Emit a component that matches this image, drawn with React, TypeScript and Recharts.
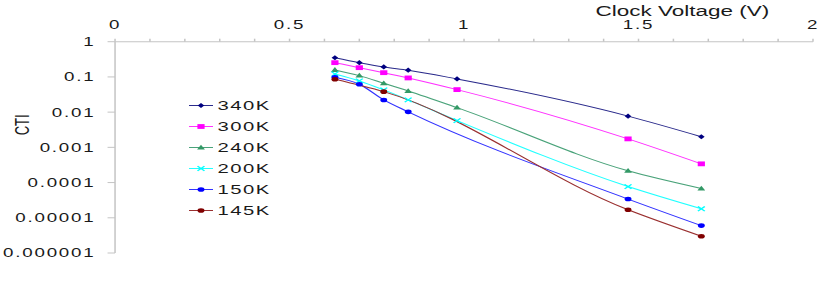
import React from 'react';
import { LineChart, Line, XAxis, YAxis, Legend, Label } from 'recharts';

// Charge transfer inefficiency vs clock voltage, per temperature
const temps = ['340K', '300K', '240K', '200K', '150K', '145K'];
const markerColors = ['#000080', '#ff00ff', '#339966', '#00ffff', '#0000ff', '#800000'];
const lineColors = ['#2b2b8c', '#ff33ff', '#4aa37a', '#22ffff', '#3333ff', '#9a3030'];
const shapes = ['diamond', 'square', 'triangle', 'cross', 'circle', 'circle'];

const volts340 = [0.63, 0.7, 0.77, 0.84, 0.98, 1.47, 1.68];
const cti340 = [0.35, 0.254, 0.192, 0.155, 0.0876, 0.0077, 0.002];

const volts300 = [0.63, 0.7, 0.77, 0.84, 0.98, 1.47, 1.68];
const cti300 = [0.254, 0.183, 0.132, 0.0935, 0.0436, 0.00174, 0.00034];

const volts240 = [0.63, 0.7, 0.77, 0.84, 0.98, 1.47, 1.68];
const cti240 = [0.158, 0.109, 0.0662, 0.04, 0.01345, 0.000216, 0.000068];

const volts200 = [0.63, 0.7, 0.77, 0.84, 0.98, 1.47, 1.68];
const cti200 = [0.121, 0.0769, 0.0427, 0.0223, 0.00576, 0.000077, 0.000018];

const volts150 = [0.63, 0.7, 0.77, 0.84, 1.47, 1.68];
const cti150 = [0.098, 0.062, 0.0222, 0.0102, 0.000034, 0.000006];

const volts145 = [0.63, 0.77, 1.47, 1.68];
const cti145 = [0.086, 0.0382, 0.0000169, 0.000003];

const xTicks = [0, 0.1, 0.2, 0.3, 0.4, 0.5, 0.6, 0.7, 0.8, 0.9, 1, 1.1, 1.2, 1.3, 1.4, 1.5, 1.6, 1.7, 1.8, 1.9, 2];
const xTickLabels = [0, 0.5, 1, 1.5, 2];
const yTicks = [0.000001, 0.00001, 0.0001, 0.001, 0.01, 0.1, 1];

const allVolts = [volts340, volts300, volts240, volts200, volts150, volts145];
const allCti = [cti340, cti300, cti240, cti200, cti150, cti145];

const series = temps.map((name, i) => ({
    name,
    color: markerColors[i],
    lineColor: lineColors[i],
    shape: shapes[i],
    data: allVolts[i].map((x, j) => ({ x, y: allCti[i][j] })),
}));

const FONT = '"Liberation Sans", Arial, sans-serif';

function Marker({ shape, cx, cy, color }: any) {
    if (cx == null || cy == null) return null;
    switch (shape) {
        case 'diamond':
            return <path d={`M${cx},${cy - 2.6}L${cx + 2.2},${cy}L${cx},${cy + 2.6}L${cx - 2.2},${cy}Z`} fill={color} />;
        case 'square':
            return <rect x={cx - 2.4} y={cy - 2.4} width={4.8} height={4.8} fill={color} />;
        case 'triangle':
            return <path d={`M${cx},${cy - 2.8}L${cx + 2.6},${cy + 2}L${cx - 2.6},${cy + 2}Z`} fill={color} />;
        case 'cross':
            return (
                <path d={`M${cx - 2.3},${cy - 2.3}L${cx + 2.3},${cy + 2.3}M${cx + 2.3},${cy - 2.3}L${cx - 2.3},${cy + 2.3}`}
                    stroke={color} strokeWidth={1.1} fill="none" />
            );
        default:
            return <circle cx={cx} cy={cy} r={2.3} fill={color} />;
    }
}

function LegendBox() {
    return (
        <div style={{ fontFamily: FONT, fontSize: 13.5, letterSpacing: 1, color: '#1a1a1a' }}>
            {series.map(s => (
                <div key={s.name} style={{ display: 'flex', alignItems: 'center', height: 21 }}>
                    <svg width={16} height={21} style={{ marginRight: 3 }}>
                        <line x1={0} y1={10.5} x2={16} y2={10.5} stroke={s.lineColor} strokeWidth={1} />
                        <Marker shape={s.shape} cx={8} cy={10.5} color={s.color} />
                    </svg>
                    <span style={{ lineHeight: '21px' }}>{s.name}</span>
                </div>
            ))}
        </div>
    );
}

function CtiLabel({ viewBox }: any) {
    const cx = viewBox.x + 15;
    const cy = viewBox.y + viewBox.height / 2 - 22.5;
    return (
        <text x={cx} y={cy} transform={`rotate(-90 ${cx} ${cy})`} textAnchor="middle" dominantBaseline="central"
            fontFamily={FONT} fontSize={13} fill="#1a1a1a">CTI</text>
    );
}

function TitleLabel({ viewBox }: any) {
    const cx = viewBox.x + viewBox.width * 0.813;
    return (
        <text x={cx} y={16} textAnchor="middle" fontFamily={FONT} fontSize={15} fill="#1a1a1a">
            Clock Voltage (V)
        </text>
    );
}

export default function App() {
    return (
        <div style={{ position: 'absolute', left: 0, top: 0, width: 554, height: 284, transform: 'scaleX(1.5)', transformOrigin: '0 0', background: '#fff' }}>
            <LineChart width={554} height={284} margin={{ top: 0, right: 12, bottom: 31, left: 0 }} style={{ fontFamily: FONT }}>
                <XAxis
                    type="number"
                    dataKey="x"
                    orientation="top"
                    domain={[0, 2]}
                    ticks={xTicks}
                    interval={0}
                    height={41.7}
                    tickSize={3}
                    tickMargin={10}
                    tickFormatter={(v: number) => (xTickLabels.some(t => Math.abs(t - v) < 1e-9) ? String(v) : '')}
                    axisLine={{ stroke: '#c4c4c4' }}
                    tickLine={{ stroke: '#c4c4c4' }}
                    tick={{ fontSize: 12.5, fill: '#1a1a1a', letterSpacing: 1.2 }}
                >
                    <Label content={TitleLabel} />
                </XAxis>
                <YAxis
                    type="number"
                    scale="log"
                    domain={[0.000001, 1]}
                    ticks={yTicks}
                    interval={0}
                    allowDataOverflow
                    width={76.7}
                    tickSize={5}
                    tickMargin={8}
                    tickFormatter={(v: number) => String(v)}
                    axisLine={{ stroke: '#c4c4c4' }}
                    tickLine={{ stroke: '#c4c4c4' }}
                    tick={{ fontSize: 12.5, fill: '#1a1a1a', letterSpacing: 1.2 }}
                >
                    <Label content={CtiLabel} />
                </YAxis>
                <Legend
                    layout="vertical"
                    align="center"
                    verticalAlign="middle"
                    wrapperStyle={{ left: 126, top: 95, width: 'auto' }}
                    content={() => <LegendBox />}
                />
                {series.map(s => (
                    <Line
                        key={s.name}
                        name={s.name}
                        data={s.data}
                        dataKey="y"
                        type="monotone"
                        stroke={s.lineColor}
                        strokeWidth={1}
                        isAnimationActive={false}
                        dot={(p: any) => <Marker key={`${s.name}-${p.index}`} shape={s.shape} cx={p.cx} cy={p.cy} color={s.color} />}
                        activeDot={false}
                    />
                ))}
            </LineChart>
        </div>
    );
}
